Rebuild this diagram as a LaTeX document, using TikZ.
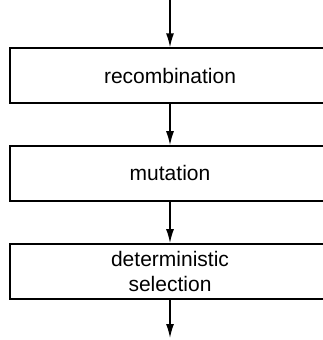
\documentclass[tikz,border=0pt]{standalone}
\usepackage{fontspec}
\setmainfont{Liberation Sans}
\usepackage{tikz}
\usetikzlibrary{positioning,arrows.meta}

\begin{document}
\begin{tikzpicture}[x=1pt, y=1pt,
        etapa/.style={draw, line width=1.4pt, rectangle, minimum width=320pt,
            minimum height=55pt, align=center, inner sep=0pt,
            font=\fontsize{21}{25}\selectfont},
        flecha/.style={-{Latex[length=14pt,width=8pt]}, line width=1.4pt},
        node distance=41.5pt]
    % Marco de la figura (el borde derecho de las cajas queda fuera)
    \useasboundingbox (0,0) rectangle (323,-340);
    \clip (0,0) rectangle (323,-340);

    % Etapas
    \node[etapa] (recomb) at (170,-75.5) {recombination};
    \node[etapa, below=of recomb] (mut) {mutation};
    \node[etapa, below=of mut] (sel) {deterministic\\selection};

    % Entrada y salida
    \coordinate (entrada) at (170,0);
    \coordinate (salida) at (170,-338);

    % Flechas
    \draw[flecha] (entrada) -- (recomb);
    \draw[flecha] (recomb) -- (mut);
    \draw[flecha] (mut) -- (sel);
    \draw[flecha] (sel) -- (salida);
\end{tikzpicture}
\end{document}
